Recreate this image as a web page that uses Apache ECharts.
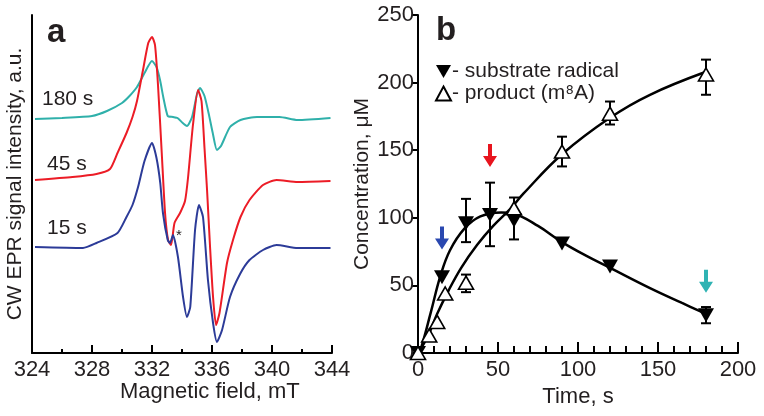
<!DOCTYPE html>
<html>
<head>
<meta charset="utf-8">
<script src="https://cdn.jsdelivr.net/npm/echarts@6/dist/echarts.min.js"></script>
<style>
  html, body { margin: 0; padding: 0; background: #fff; }
  #chart { width: 764px; height: 416px; }
</style>
</head>
<body>
<div id="chart"></div>
<script>
// panel a: EPR spectra, [field mT, signal a.u.]
const trace180s = [
  [324.2, 234], [326, 235], [328, 237], [329, 242], [330, 250], [330.5, 257], [331, 266],
  [331.5, 280], [332, 292], [332.3, 286], [332.55, 272], [332.75, 256], [333.05, 237],
  [333.4, 236], [333.7, 235], [334.05, 230], [334.33, 227], [334.67, 236], [335, 259],
  [335.2, 265], [335.5, 257], [335.8, 238], [336.05, 220], [336.33, 203], [336.6, 207],
  [337.2, 226], [337.9, 233], [339, 236], [340.5, 236], [341.7, 233], [343.9, 235]
];
const trace45s = [
  [324.2, 173], [326.7, 176], [328.3, 179], [329.2, 184], [329.7, 200], [330.3, 220],
  [330.7, 236], [331, 252], [331.4, 283], [331.75, 310], [332, 316], [332.2, 308],
  [332.4, 268], [332.65, 200], [332.87, 140], [333.07, 113], [333.27, 108], [333.5, 130],
  [333.87, 140], [334.2, 152], [334.4, 175], [334.73, 228], [335.07, 263], [335.3, 252],
  [335.5, 205], [335.67, 163], [335.87, 106], [336.07, 56], [336.27, 28], [336.5, 40],
  [337, 90], [337.4, 113], [337.9, 136], [338.5, 153], [339.4, 168], [340.3, 173],
  [341.7, 171], [343.9, 172]
];
const trace15s = [
  [324.2, 106], [327.4, 105], [328.3, 110], [329.7, 120], [330.3, 136], [330.7, 148],
  [331.07, 166], [331.5, 192], [332, 210], [332.3, 195], [332.55, 170], [332.73, 140],
  [333.05, 113], [333.2, 110], [333.4, 118], [333.73, 96], [334.07, 56], [334.33, 36],
  [334.55, 46], [334.87, 123], [335.13, 148], [335.4, 136], [335.73, 73], [336.07, 30],
  [336.33, 11], [336.67, 23], [337.2, 56], [337.87, 79], [338.5, 93], [339.4, 103],
  [340.3, 108], [341.7, 105], [343.9, 105]
];

// panel b: kinetics
const radicalTime = [0, 15, 30, 45, 60, 90, 120, 180];
const radicalConc = [0, 56, 96, 102, 98, 81, 64, 28];
const radicalLow  = [null, null, 82, 79, 84, null, null, 22];
const radicalHigh = [null, null, 114, 126, 115, null, null, 34];

const productTime = [0, 7, 12, 17, 30, 60, 90, 120, 180];
const productConc = [0, 13, 23, 44, 52, 107, 149, 177, 206];
const productLow  = [null, null, null, null, 45, null, 138, 169, 191];
const productHigh = [null, null, null, null, 58, null, 160, 186, 217];

const radicalFitTime = [0, 2, 8, 14, 20, 29, 39, 52, 60, 75, 90, 105, 120, 145, 165, 180];
const radicalFitConc = [0, 4, 30, 57, 76, 92, 101, 104, 103, 94, 82, 72, 63, 48, 37, 29];
const productFitTime = [0, 6, 12, 19, 27, 37, 47, 58, 66, 90, 120, 145, 180];
const productFitConc = [0, 12, 29, 46, 63, 80, 94, 107, 118, 147, 174, 191, 208];

const arrowTime = [15, 45, 180];
const arrowConc = [85, 146, 53];
const arrowColors = ['#2a48b0', '#e8141e', '#2fb3b3'];

const fieldTicks = [324, 328, 332, 336, 340, 344];

const FONT = 'Liberation Sans, Arial, Helvetica, sans-serif';
const INK = '#231f20';

function pairs(xs, ys) {
  return xs.map((x, i) => [x, ys[i]]);
}
function errRows(xs, lo, hi) {
  const rows = [];
  xs.forEach((x, i) => { if (lo[i] != null) rows.push([x, lo[i], hi[i]]); });
  return rows;
}

const downTri = 'path://M0,0 L16,0 L8,14 Z';
const arrowPath = 'path://M5,0 L9,0 L9,12 L14,12 L7,23 L0,12 L5,12 Z';

function errorBars(params, api) {
  const lo = api.coord([api.value(0), api.value(1)]);
  const hi = api.coord([api.value(0), api.value(2)]);
  const w = 5;
  const style = { stroke: '#000', lineWidth: 2 };
  return {
    type: 'group',
    children: [
      { type: 'line', shape: { x1: lo[0], y1: lo[1], x2: hi[0], y2: hi[1] }, style: style },
      { type: 'line', shape: { x1: lo[0] - w, y1: lo[1], x2: lo[0] + w, y2: lo[1] }, style: style },
      { type: 'line', shape: { x1: hi[0] - w, y1: hi[1], x2: hi[0] + w, y2: hi[1] }, style: style }
    ]
  };
}

const chart = echarts.init(document.getElementById('chart'));

const axisLineStyle = { lineStyle: { color: '#000', width: 2 } };

const option = {
  animation: false,
  textStyle: { fontFamily: FONT },
  grid: [
    { left: 32, right: 432, top: 15, bottom: 63 },
    { left: 418, right: 26, top: 15, bottom: 63 }
  ],
  xAxis: [
    {
      gridIndex: 0, type: 'value', min: 324, max: 344, interval: 4,
      axisLine: axisLineStyle,
      axisTick: { inside: true, length: 8, lineStyle: { color: '#000', width: 2 } },
      minorTick: { show: true, splitNumber: 2, length: 4, lineStyle: { color: '#000', width: 2 } },
      axisLabel: {
        fontSize: 22, color: INK, margin: 6, fontFamily: FONT,
        formatter: v => fieldTicks.includes(v) ? String(v) : ''
      },
      splitLine: { show: false }
    },
    {
      gridIndex: 1, type: 'value', min: 0, max: 200, interval: 50,
      axisLine: axisLineStyle,
      axisTick: { inside: true, length: 11, lineStyle: { color: '#000', width: 2 } },
      minorTick: { show: true, splitNumber: 5, length: 7, lineStyle: { color: '#000', width: 2 } },
      axisLabel: { fontSize: 22, color: INK, margin: 6, fontFamily: FONT },
      splitLine: { show: false },
      name: 'Time, s', nameLocation: 'middle', nameGap: 29,
      nameTextStyle: { fontSize: 22, color: INK, fontFamily: FONT }
    }
  ],
  yAxis: [
    {
      gridIndex: 0, type: 'value', min: 0, max: 338,
      axisLine: { show: true, lineStyle: { color: '#000', width: 2 } },
      axisTick: { show: false }, axisLabel: { show: false }, splitLine: { show: false },
      name: 'CW EPR signal intensity, a.u.', nameLocation: 'middle', nameGap: 6,
      nameTextStyle: { fontSize: 21, color: INK, fontFamily: FONT }
    },
    {
      gridIndex: 1, type: 'value', min: 0, max: 250, interval: 50,
      axisLine: { show: true, lineStyle: { color: '#000', width: 2 } },
      axisTick: { show: true, inside: false, length: 6, lineStyle: { color: '#000', width: 2 } },
      axisLabel: { fontSize: 22, color: INK, margin: 4, fontFamily: FONT },
      splitLine: { show: false },
      name: 'Concentration, \u03bcM', nameLocation: 'middle', nameGap: 45,
      nameTextStyle: { fontSize: 21, color: INK, fontFamily: FONT }
    }
  ],
  legend: {
    orient: 'vertical', left: 430, top: 56,
    itemWidth: 15, itemHeight: 14, itemGap: 1,
    selectedMode: false,
    data: ['substrate radical', 'product (m\u2078A)'],
    formatter: name => '- ' + name,
    textStyle: { fontSize: 21, color: INK, fontFamily: FONT, padding: [0, 0, 0, -4] }
  },
  series: [
    { type: 'line', xAxisIndex: 0, yAxisIndex: 0, data: trace180s, showSymbol: false,
      smooth: 0.2, lineStyle: { color: '#2fb0aa', width: 2 } },
    { type: 'line', xAxisIndex: 0, yAxisIndex: 0, data: trace45s, showSymbol: false,
      smooth: 0.2, lineStyle: { color: '#ec1c26', width: 2 } },
    { type: 'line', xAxisIndex: 0, yAxisIndex: 0, data: trace15s, showSymbol: false,
      smooth: 0.2, lineStyle: { color: '#2c3b98', width: 2 } },

    { type: 'line', xAxisIndex: 1, yAxisIndex: 1, data: pairs(radicalFitTime, radicalFitConc),
      showSymbol: false, smooth: 0.4, lineStyle: { color: '#000', width: 2.5 } },
    { type: 'line', xAxisIndex: 1, yAxisIndex: 1, data: pairs(productFitTime, productFitConc),
      showSymbol: false, smooth: 0.4, lineStyle: { color: '#000', width: 2.5 } },

    { type: 'custom', xAxisIndex: 1, yAxisIndex: 1, renderItem: errorBars,
      data: errRows(radicalTime, radicalLow, radicalHigh), z: 3 },
    { type: 'custom', xAxisIndex: 1, yAxisIndex: 1, renderItem: errorBars,
      data: errRows(productTime, productLow, productHigh), z: 3 },

    { name: 'substrate radical', type: 'scatter', xAxisIndex: 1, yAxisIndex: 1,
      data: pairs(radicalTime, radicalConc), symbol: downTri, symbolSize: [16, 14],
      itemStyle: { color: '#000', opacity: 1 }, z: 5 },
    { name: 'product (m\u2078A)', type: 'scatter', xAxisIndex: 1, yAxisIndex: 1,
      data: pairs(productTime, productConc), symbol: 'triangle', symbolSize: [15, 13],
      itemStyle: { color: '#fff', borderColor: '#000', borderWidth: 1.6, opacity: 1 }, z: 6 },

    { type: 'scatter', xAxisIndex: 1, yAxisIndex: 1, symbol: arrowPath, symbolSize: [14, 23],
      data: arrowTime.map((t, i) => ({ value: [t, arrowConc[i]], itemStyle: { color: arrowColors[i], opacity: 1 } })),
      z: 7 }
  ],
  graphic: [
    { type: 'text', left: 47, top: 16, style: { text: 'a', font: 'bold 33px ' + FONT, fill: INK } },
    { type: 'text', left: 436, top: 14, style: { text: 'b', font: 'bold 33px ' + FONT, fill: INK } },
    { type: 'text', left: 42, top: 89, style: { text: '180 s', font: '21px ' + FONT, fill: INK } },
    { type: 'text', left: 47, top: 154, style: { text: '45 s', font: '21px ' + FONT, fill: INK } },
    { type: 'text', left: 47, top: 218, style: { text: '15 s', font: '21px ' + FONT, fill: INK } },
    { type: 'text', left: 176, top: 228, style: { text: '*', font: '15px ' + FONT, fill: INK } },
    { type: 'text', left: 120, top: 381, style: { text: 'Magnetic field, mT', font: '22px ' + FONT, fill: INK } }
  ]
};

chart.setOption(option);
</script>
</body>
</html>
